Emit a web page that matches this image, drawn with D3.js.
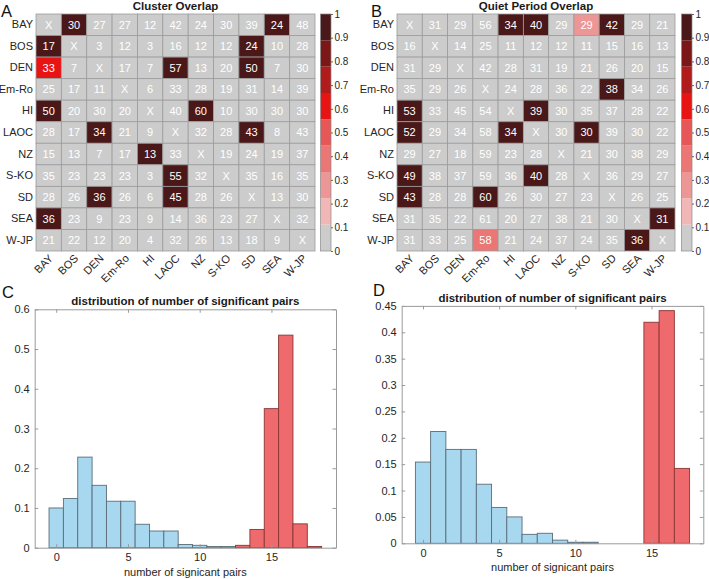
<!DOCTYPE html>
<html><head><meta charset="utf-8">
<script src="https://cdn.jsdelivr.net/npm/d3@7"></script>
<style>
html,body{margin:0;padding:0;background:#fff;}
svg{display:block;font-family:"Liberation Sans",Arial,Helvetica,sans-serif;}
</style></head>
<body><svg id="c" width="709" height="579"></svg>
<script>
// ---------- DATA ----------
const sites = ["BAY","BOS","DEN","Em-Ro","HI","LAOC","NZ","S-KO","SD","SEA","W-JP"];

// Cluster overlap counts (null = diagonal "X")
const clusterCounts = [
  [null,30,27,27,12,42,24,30,39,24,48],
  [17,null,3,12,3,16,12,12,24,10,28],
  [33,7,null,17,7,57,13,20,50,7,30],
  [25,17,11,null,6,33,28,19,31,14,39],
  [50,20,30,20,null,40,60,10,30,30,30],
  [28,17,34,21,9,null,32,28,43,8,43],
  [15,13,7,17,13,33,null,19,24,19,37],
  [35,23,23,23,3,55,32,null,35,16,35],
  [28,26,36,26,6,45,28,26,null,13,30],
  [36,23,9,23,9,14,36,23,27,null,32],
  [21,22,12,20,4,32,26,13,18,9,null]
];
// Cluster overlap colour value (0..1)
const clusterShade = [
  [0,0.95,0,0,0,0,0,0,0,0.95,0],
  [0.95,0,0,0,0,0,0,0,0.95,0,0],
  [0.6,0,0,0,0,0.95,0,0,0.95,0,0],
  [0,0,0,0,0,0,0,0,0,0,0],
  [0.95,0,0,0,0,0,0.95,0,0,0,0],
  [0,0,0.95,0,0,0,0,0,0.95,0,0],
  [0,0,0,0,0.95,0,0,0,0,0,0],
  [0,0,0,0,0,0.95,0,0,0,0,0],
  [0,0,0.95,0,0,0.95,0,0,0,0,0],
  [0.95,0,0,0,0,0,0,0,0,0,0],
  [0,0,0,0,0,0,0,0,0,0,0]
];
// Quiet period overlap counts
const quietCounts = [
  [null,31,29,56,34,40,29,29,42,29,21],
  [16,null,14,25,11,12,12,11,15,16,13],
  [31,29,null,42,28,31,19,21,26,20,15],
  [35,29,26,null,24,28,36,22,38,34,26],
  [53,33,45,54,null,39,30,35,37,28,22],
  [52,29,34,58,34,null,30,30,39,30,22],
  [29,27,18,59,23,28,null,21,30,38,29],
  [49,38,37,59,36,40,28,null,36,29,27],
  [43,28,28,60,26,30,27,23,null,26,25],
  [31,35,22,61,20,27,38,21,30,null,31],
  [31,33,25,58,21,24,37,24,35,36,null]
];
const quietShade = [
  [0,0,0,0,0.95,0.95,0,0.28,0.95,0,0],
  [0,0,0,0,0,0,0,0,0,0,0],
  [0,0,0,0,0,0,0,0,0,0,0],
  [0,0,0,0,0,0,0,0,0.95,0,0],
  [0.95,0,0,0,0,0.95,0,0,0,0,0],
  [0.95,0,0,0,0.95,0,0,0.95,0,0,0],
  [0,0,0,0,0,0,0,0,0,0,0],
  [0.95,0,0,0,0,0.95,0,0,0,0,0],
  [0.95,0,0,0.95,0,0,0,0,0,0,0],
  [0,0,0,0,0,0,0,0,0,0,0.95],
  [0,0,0,0.4,0,0,0,0,0,0.95,0]
];
const colorbarTicks = [0,0.1,0.2,0.3,0.4,0.5,0.6,0.7,0.8,0.9,1];
const colorSteps = ["#cccccc","#f1b6b6","#ed9696","#ea7676","#e75757","#e81414","#b01b1b","#7b1717","#4a1818"];

// Histograms (bin centre -> probability)
const clusterNullBins = [0,1,2,3,4,5,6,7,8,9,10,11,12];
const clusterNullVals = [0.100,0.124,0.228,0.157,0.117,0.117,0.059,0.042,0.042,0.008,0.006,0.003,0.003];
const clusterObsBins = [13,14,15,16,17,18];
const clusterObsVals = [0.006,0.046,0.350,0.535,0.060,0.003];
const quietNullBins = [0,1,2,3,4,5,6,7,8,9,10,11];
const quietNullVals = [0.154,0.212,0.178,0.178,0.112,0.068,0.050,0.017,0.019,0.006,0.002,0.002];
const quietObsBins = [15,16,17];
const quietObsVals = [0.419,0.441,0.142];
const histXTicks = [0,5,10,15];
const histYTicksC = [0,0.1,0.2,0.3,0.4,0.5,0.6];
const histYTicksD = [0,0.05,0.1,0.15,0.2,0.25,0.3,0.35,0.4,0.45];

// ---------- DRAW ----------
const svg = d3.select("#c");
const FONT = "Liberation Sans, Arial, Helvetica, sans-serif";
const color = d3.scaleQuantize().domain([0,1]).range(colorSteps);

function heatmap(cfg){
  const g = svg.append("g");
  const x = d3.scaleBand().domain(sites).range([cfg.x0,cfg.x1]);
  const y = d3.scaleBand().domain(sites).range([cfg.y0,cfg.y1]);
  const cells = [];
  sites.forEach((r,i)=>sites.forEach((c,j)=>cells.push({r,c,v:cfg.counts[i][j],s:cfg.shade[i][j]})));
  g.selectAll("rect.cell").data(cells).join("rect")
    .attr("x",d=>x(d.c)).attr("y",d=>y(d.r))
    .attr("width",x.bandwidth()).attr("height",y.bandwidth())
    .attr("fill",d=>color(d.s)).attr("stroke","#9c9c9c").attr("stroke-width",0.8);
  g.selectAll("text.val").data(cells).join("text")
    .attr("x",d=>x(d.c)+x.bandwidth()/2).attr("y",d=>y(d.r)+y.bandwidth()/2)
    .attr("dy","0.36em").attr("text-anchor","middle")
    .attr("font-size",11).attr("fill","#ffffff")
    .text(d=>d.v===null?"X":d.v);
  // row labels
  const ya = g.append("g").attr("transform",`translate(${cfg.x0-2},0)`)
    .call(d3.axisLeft(y).tickSize(0).tickPadding(1));
  ya.select(".domain").remove();
  ya.selectAll("text").attr("font-size",11).attr("fill","#262626").attr("font-family",FONT);
  // column labels
  const xa = g.append("g").attr("transform",`translate(0,${cfg.y1})`)
    .call(d3.axisBottom(x).tickSize(0).tickPadding(0));
  xa.select(".domain").remove();
  xa.selectAll("text").attr("font-size",11).attr("fill","#262626")
    .attr("font-family",FONT)
    .attr("text-anchor","end").attr("dy","0")
    .attr("transform","translate(5,8) rotate(-45)");
  // title
  g.append("text").attr("x",(cfg.x0+cfg.x1)/2).attr("y",9.5).attr("text-anchor","middle")
    .attr("font-size",11.5).attr("font-weight","bold").attr("fill","#1a1a1a").text(cfg.title);
  // colorbar
  const cy = d3.scaleLinear().domain([0,1]).range([cfg.y1,cfg.y0]);
  const steps = colorSteps.map((c,i)=>({c,a:i/colorSteps.length,b:(i+1)/colorSteps.length}));
  g.selectAll("rect.cb").data(steps).join("rect")
    .attr("x",cfg.cbX).attr("width",10.5)
    .attr("y",d=>cy(d.b)).attr("height",d=>cy(d.a)-cy(d.b))
    .attr("fill",d=>d.c);
  g.append("rect").attr("x",cfg.cbX).attr("y",cfg.y0).attr("width",10.5).attr("height",cfg.y1-cfg.y0)
    .attr("fill","none").attr("stroke","#8a8a8a").attr("stroke-width",0.7);
  const ca = g.append("g").attr("transform",`translate(${cfg.cbX+10.5},0)`)
    .call(d3.axisRight(cy).tickValues(colorbarTicks).tickSize(2).tickPadding(1.5).tickFormat(d3.format("~g")));
  ca.select(".domain").remove();
  ca.selectAll("line").attr("stroke","#666");
  ca.selectAll("text").attr("font-size",10).attr("fill","#262626").attr("font-family",FONT);
}

heatmap({x0:36,x1:315,y0:14,y1:251,counts:clusterCounts,shade:clusterShade,title:"Cluster Overlap",cbX:320.5});
heatmap({x0:397,x1:675,y0:14,y1:251,counts:quietCounts,shade:quietShade,title:"Quiet Period Overlap",cbX:681.5});

function hist(cfg){
  const g = svg.append("g");
  const x = d3.scaleLinear().domain(cfg.xd).range([cfg.x0,cfg.x1]);
  const y = d3.scaleLinear().domain(cfg.yd).range([cfg.y1,cfg.y0]);
  function bars(bins,vals,fill,stroke){
    g.append("g").selectAll("rect").data(bins.map((b,i)=>({b,v:vals[i]}))).join("rect")
      .attr("x",d=>x(d.b-0.5)).attr("width",d=>x(d.b+0.5)-x(d.b-0.5))
      .attr("y",d=>y(d.v)).attr("height",d=>y(0)-y(d.v))
      .attr("fill",fill).attr("stroke",stroke).attr("stroke-width",0.9);
  }
  bars(cfg.nb,cfg.nv,"#a8d8f0","#5b6c78");
  bars(cfg.ob,cfg.ov,"#ee6a6c","#8b3535");
  const axc = "#9a9a9a";
  const style = sel=>{
    sel.select(".domain").attr("stroke",axc);
    sel.selectAll("line").attr("stroke",axc);
    sel.selectAll("text").attr("font-size",11).attr("fill","#262626").attr("font-family",FONT);
  };
  g.append("g").attr("transform",`translate(0,${cfg.y1})`)
    .call(d3.axisBottom(x).tickValues(histXTicks).tickSizeInner(-3.5).tickSizeOuter(0).tickPadding(6)).call(style);
  g.append("g").attr("transform",`translate(0,${cfg.y0})`)
    .call(d3.axisTop(x).tickValues(histXTicks).tickSizeInner(-3.5).tickSizeOuter(0).tickFormat("")).call(style);
  g.append("g").attr("transform",`translate(${cfg.x0},0)`)
    .call(d3.axisLeft(y).tickValues(cfg.yt).tickSizeInner(-3.5).tickSizeOuter(0).tickPadding(5).tickFormat(d3.format("~g"))).call(style);
  g.append("g").attr("transform",`translate(${cfg.x1},0)`)
    .call(d3.axisRight(y).tickValues(cfg.yt).tickSizeInner(-3.5).tickSizeOuter(0).tickFormat("")).call(style);
  g.append("text").attr("x",(cfg.x0+cfg.x1)/2).attr("y",cfg.y0-4).attr("text-anchor","middle")
    .attr("font-size",11.5).attr("font-weight","bold").attr("fill","#1a1a1a").text("distribution of number of significant pairs");
  g.append("text").attr("x",(cfg.x0+cfg.x1)/2).attr("y",cfg.y1+28).attr("text-anchor","middle")
    .attr("font-size",11).attr("fill","#262626").text("number of signicant pairs");
}

hist({x0:34.7,x1:336,y0:309.3,y1:547.7,xd:[-1.5,19.5],yd:[0,0.6],yt:histYTicksC,
      nb:clusterNullBins,nv:clusterNullVals,ob:clusterObsBins,ov:clusterObsVals});
hist({x0:401.7,x1:703.3,y0:305.9,y1:543.3,xd:[-1.4,18.4],yd:[0,0.45],yt:histYTicksD,
      nb:quietNullBins,nv:quietNullVals,ob:quietObsBins,ov:quietObsVals});

// panel letters
const letters = [{t:"A",x:1,y:17},{t:"B",x:371,y:17},{t:"C",x:2,y:298},{t:"D",x:373,y:296}];
svg.selectAll("text.letter").data(letters).join("text").attr("class","letter")
  .attr("x",d=>d.x).attr("y",d=>d.y).attr("font-size",16.5).attr("fill","#111").text(d=>d.t);
</script></body></html>
